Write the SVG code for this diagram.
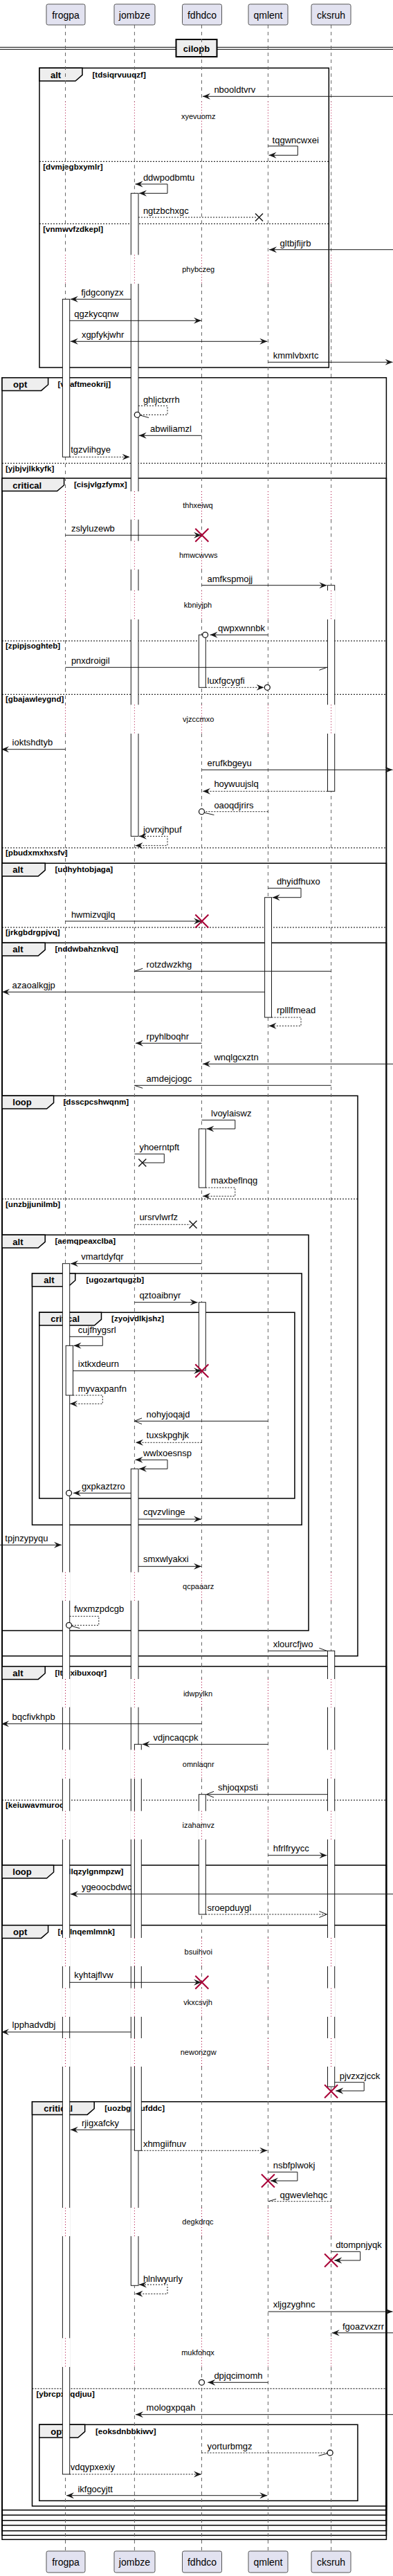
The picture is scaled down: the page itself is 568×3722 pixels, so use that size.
<svg xmlns="http://www.w3.org/2000/svg" width="568" height="3722" viewBox="0 0 568 3722">
<style>
.lbl{font-family:"Liberation Sans",Arial,sans-serif;font-size:13px;fill:#000}
.dly{font-family:"Liberation Sans",Arial,sans-serif;font-size:11px;fill:#000;text-anchor:middle}
.cnd{font-family:"Liberation Sans",Arial,sans-serif;font-size:11.6px;font-weight:bold;fill:#000}
.tab{font-family:"Liberation Sans",Arial,sans-serif;font-size:13px;font-weight:bold;fill:#000}
.pn{font-family:"Liberation Sans",Arial,sans-serif;font-size:14px;fill:#000;text-anchor:middle}
.m{stroke:#181818;stroke-width:1;fill:none}
.d{stroke-dasharray:2,2}
.fr{fill:none;stroke:#000;stroke-width:1.5}
.tb{fill:#EEEEEE;stroke:#000;stroke-width:1.5}
.sep{stroke:#000;stroke-width:1;stroke-dasharray:2,2}
.ll{stroke:#666;stroke-width:1;stroke-dasharray:5,5;fill:none}
.lr{stroke:#A80036;stroke-width:1;stroke-dasharray:1,3;fill:none}
.bar{fill:#fff;stroke:#181818;stroke-width:1}
.cv{fill:#fff;stroke:none}
.xr{stroke:#A80036;stroke-width:2;fill:none}
.xb{stroke:#181818;stroke-width:1.5;fill:none}
.ci{fill:#fff;stroke:#181818;stroke-width:1.3}
.pb{fill:#E2E2F0;stroke:#555;stroke-width:1}
</style>
<defs>
<marker id="af" markerUnits="userSpaceOnUse" markerWidth="12" markerHeight="10" viewBox="0 0 12 10" refX="11" refY="5" orient="auto-start-reverse"><path d="M0,0.5 L11,5 L0,9.5 L4,5 Z" fill="#181818"/></marker>
<marker id="ao" markerUnits="userSpaceOnUse" markerWidth="12" markerHeight="10" viewBox="0 0 12 10" refX="11" refY="5" orient="auto-start-reverse"><path d="M0,0.5 L11,5 L0,9.5" fill="none" stroke="#181818" stroke-width="1"/></marker>
</defs>

<g id="divider-cilopb">
<line x1="0" y1="68.3" x2="568" y2="68.3" stroke="#000" stroke-width="1"/>
<line x1="0" y1="71.3" x2="568" y2="71.3" stroke="#000" stroke-width="1"/>
<rect x="254.5" y="57" width="59" height="25" fill="#EEEEEE" stroke="#000" stroke-width="2"/>
<text x="284" y="74.8" class="tab" text-anchor="middle">cilopb</text>
</g>

<g id="frames">
<g id="f-alt1">
<rect class="fr" x="57" y="98.3" width="418.3" height="432.7"/>
<polygon class="tb" points="57,98.3 119,98.3 119,108.3 109,117 57,117"/>
<text class="tab" x="73" y="112.8">alt</text>
<text class="cnd" x="133.5" y="111.5">[tdsiqrvuuqzf]</text>
<line class="sep" x1="57" y1="233.3" x2="475.3" y2="233.3"/>
<text class="cnd" x="62.2" y="244.5">[dvmjegbxymlr]</text>
<line class="sep" x1="57" y1="323.3" x2="475.3" y2="323.3"/>
<text class="cnd" x="62.2" y="335">[vnmwvfzdkepl]</text>
</g>
<g id="f-opt1">
<rect class="fr" x="3" y="545.7" width="555.4" height="3123.6"/>
<polygon class="tb" points="3,545.7 69.6,545.7 69.6,555.7 59.6,564.4 3,564.4"/>
<text class="tab" x="19" y="560">opt</text>
<text class="cnd" x="83.5" y="558.5">[vpaftmeokrij]</text>
<line class="sep" x1="3" y1="669.3" x2="558.4" y2="669.3"/>
<text class="cnd" x="8" y="680.7">[yjbjvjlkkyfk]</text>
</g>
<g id="f-crit1">
<rect class="fr" x="3" y="691" width="555.4" height="2972.3"/>
<polygon class="tb" points="3,691 92.6,691 92.6,701 82.6,709.5 3,709.5"/>
<text class="tab" x="18.3" y="706">critical</text>
<text class="cnd" x="107" y="703.5">[cisjvlgzfymx]</text>
<line class="sep" x1="3" y1="926" x2="558.4" y2="926"/>
<text class="cnd" x="8" y="937.3">[zpipjsoghteb]</text>
<line class="sep" x1="3" y1="1003.3" x2="558.4" y2="1003.3"/>
<text class="cnd" x="8" y="1014">[gbajawleygnd]</text>
<line class="sep" x1="3" y1="1225" x2="558.4" y2="1225"/>
<text class="cnd" x="8" y="1235.5">[pbudxmxhxsfv]</text>
</g>
<g id="f-alt2">
<rect class="fr" x="3" y="1247.3" width="555.4" height="2409.4"/>
<polygon class="tb" points="3,1247.3 65.2,1247.3 65.2,1257.3 55.2,1266 3,1266"/>
<text class="tab" x="18.3" y="1261">alt</text>
<text class="cnd" x="79.5" y="1259.5">[udhyhtobjaga]</text>
<line class="sep" x1="3" y1="1340" x2="558.4" y2="1340"/>
<text class="cnd" x="8" y="1351">[jrkgbdrgpjvq]</text>
</g>
<g id="f-alt3">
<rect class="fr" x="3" y="1362.3" width="555.4" height="2286.4"/>
<polygon class="tb" points="3,1362.3 65.2,1362.3 65.2,1372.3 55.2,1381 3,1381"/>
<text class="tab" x="18.3" y="1376">alt</text>
<text class="cnd" x="79.5" y="1375">[nddwbahznkvq]</text>
</g>
<g id="f-loop1">
<rect class="fr" x="3" y="1583.3" width="514" height="809.4"/>
<polygon class="tb" points="3,1583.3 77.6,1583.3 77.6,1593.3 67.6,1602 3,1602"/>
<text class="tab" x="18.3" y="1597">loop</text>
<text class="cnd" x="91.5" y="1596">[dsscpcshwqnm]</text>
<line class="sep" x1="3" y1="1732.3" x2="517" y2="1732.3"/>
<text class="cnd" x="8" y="1743.5">[unzbjjunilmb]</text>
</g>
<g id="f-alt4">
<rect class="fr" x="3" y="1784.3" width="443" height="571.7"/>
<polygon class="tb" points="3,1784.3 65.2,1784.3 65.2,1794.3 55.2,1803 3,1803"/>
<text class="tab" x="18.3" y="1798.5">alt</text>
<text class="cnd" x="79.5" y="1797.3">[aemqpeaxclba]</text>
</g>
<g id="f-alt5">
<rect class="fr" x="46.5" y="1840" width="389.6" height="363.3"/>
<polygon class="tb" points="46.5,1840 108.8,1840 108.8,1850 98.8,1858.7 46.5,1858.7"/>
<text class="tab" x="63.3" y="1854">alt</text>
<text class="cnd" x="124.5" y="1853.3">[ugozartqugzb]</text>
</g>
<g id="f-crit2">
<rect class="fr" x="56.8" y="1896.3" width="369.1" height="268.7"/>
<polygon class="tb" points="56.8,1896.3 146.5,1896.3 146.5,1906.3 136.5,1915 56.8,1915"/>
<text class="tab" x="73.2" y="1910">critical</text>
<text class="cnd" x="161.1" y="1909.3">[zyojvdlkjshz]</text>
</g>
<g id="f-alt6">
<rect class="fr" x="3" y="2407.7" width="555.4" height="1234"/>
<polygon class="tb" points="3,2407.7 65.2,2407.7 65.2,2417.7 55.2,2426.4 3,2426.4"/>
<text class="tab" x="18.3" y="2421.7">alt</text>
<text class="cnd" x="79.5" y="2420.7">[lttpxibuxoqr]</text>
<line class="sep" x1="3" y1="2601" x2="558.4" y2="2601"/>
<text class="cnd" x="8" y="2611.7">[keiuwavmuroq]</text>
</g>
<g id="f-loop2">
<rect class="fr" x="3" y="2695" width="555.4" height="939"/>
<polygon class="tb" points="3,2695 77.6,2695 77.6,2705 67.6,2713.7 3,2713.7"/>
<text class="tab" x="18.3" y="2709.3">loop</text>
<text class="cnd" x="91.5" y="2708.3">[dlqzylgnmpzw]</text>
</g>
<g id="f-opt2">
<rect class="fr" x="3" y="2781.7" width="555.4" height="845"/>
<polygon class="tb" points="3,2781.7 69.6,2781.7 69.6,2791.7 59.6,2800.4 3,2800.4"/>
<text class="tab" x="19" y="2796">opt</text>
<text class="cnd" x="83.5" y="2794.5">[nlilnqemlmnk]</text>
</g>
<g id="f-crit3">
<rect class="fr" x="46.5" y="3036.7" width="511.9" height="584.3"/>
<polygon class="tb" points="46.5,3036.7 136.2,3036.7 136.2,3046.7 126.2,3055.4 46.5,3055.4"/>
<text class="tab" x="63.3" y="3050.7">critical</text>
<text class="cnd" x="151.2" y="3050">[uozbgoxufddc]</text>
<line class="sep" x1="46.5" y1="3451.3" x2="558.4" y2="3451.3"/>
<text class="cnd" x="52.4" y="3462.7">[ybrcpxdqdjuu]</text>
</g>
<g id="f-opt3">
<rect class="fr" x="56.8" y="3503.3" width="460.2" height="110"/>
<polygon class="tb" points="56.8,3503.3 122.7,3503.3 122.7,3513.3 112.7,3522 56.8,3522"/>
<text class="tab" x="73.2" y="3517.5">opt</text>
<text class="cnd" x="138" y="3516.7">[eoksdnbbkiwv]</text>
</g>
</g>

<g id="p-frogpa">
<path class="ll" d="M94.5,36V146.7M94.5,188.3V368.3M94.5,410V710M94.5,750.7V781.7M94.5,822.7V853.3M94.5,895V1018.3M94.5,1060V2271.7M94.5,2312.7V2426M94.5,2466.7V2528.3M94.5,2570V2616.7M94.5,2657.7V2800M94.5,2841V2872.7M94.5,2914V2945M94.5,2986V3190M94.5,3231V3378.3M94.5,3420V3686"/>
<rect class="bar" x="90.4" y="432.3" width="10.3" height="228"/>
<rect class="bar" x="90.4" y="1825.7" width="10.3" height="1749.3"/>
<rect class="bar" x="95.2" y="1944.3" width="10.3" height="71.7"/>
<rect class="cv" x="89.4" y="2271.7" width="12.3" height="41"/>
<rect class="cv" x="89.4" y="2426" width="12.3" height="40.7"/>
<rect class="cv" x="89.4" y="2528.3" width="12.3" height="41.7"/>
<rect class="cv" x="89.4" y="2616.7" width="12.3" height="41"/>
<rect class="cv" x="89.4" y="2800" width="12.3" height="41"/>
<rect class="cv" x="89.4" y="2872.7" width="12.3" height="41.3"/>
<rect class="cv" x="89.4" y="2945" width="12.3" height="41"/>
<rect class="cv" x="89.4" y="3190" width="12.3" height="41"/>
<rect class="cv" x="89.4" y="3378.3" width="12.3" height="41.7"/>
<path class="lr" d="M94.5,146.7V188.3M94.5,368.3V410M94.5,710V750.7M94.5,781.7V822.7M94.5,853.3V895M94.5,1018.3V1060M94.5,2271.7V2312.7M94.5,2426V2466.7M94.5,2528.3V2570M94.5,2616.7V2657.7M94.5,2800V2841M94.5,2872.7V2914M94.5,2945V2986M94.5,3190V3231M94.5,3378.3V3420"/>
<rect class="pb" x="67" y="6" width="56" height="30" rx="2.5"/>
<text class="pn" x="95" y="26.5">frogpa</text>
<rect class="pb" x="67" y="3686" width="56" height="31" rx="2.5"/>
<text class="pn" x="95" y="3706.7">frogpa</text>
</g>

<g id="p-jombze">
<path class="ll" d="M194.4,36V146.7M194.4,188.3V368.3M194.4,410V710M194.4,750.7V781.7M194.4,822.7V853.3M194.4,895V1018.3M194.4,1060V2271.7M194.4,2312.7V2426M194.4,2466.7V2528.3M194.4,2570V2616.7M194.4,2657.7V2800M194.4,2841V2872.7M194.4,2914V2945M194.4,2986V3190M194.4,3231V3378.3M194.4,3420V3686"/>
<rect class="bar" x="189.3" y="279.3" width="10.7" height="929"/>
<rect class="bar" x="189.3" y="2122.3" width="10.7" height="1180"/>
<rect class="bar" x="194.4" y="2520.3" width="9.9" height="587"/>
<rect class="cv" x="188.3" y="368.3" width="12.7" height="41.7"/>
<rect class="cv" x="188.3" y="710" width="12.7" height="40.7"/>
<rect class="cv" x="188.3" y="781.7" width="12.7" height="41"/>
<rect class="cv" x="188.3" y="853.3" width="12.7" height="41.7"/>
<rect class="cv" x="188.3" y="1018.3" width="12.7" height="41.7"/>
<rect class="cv" x="188.3" y="2271.7" width="12.7" height="41"/>
<rect class="cv" x="188.3" y="2426" width="12.7" height="40.7"/>
<rect class="cv" x="188.3" y="2528.3" width="17" height="41.7"/>
<rect class="cv" x="188.3" y="2616.7" width="17" height="41"/>
<rect class="cv" x="188.3" y="2800" width="17" height="41"/>
<rect class="cv" x="188.3" y="2872.7" width="17" height="41.3"/>
<rect class="cv" x="188.3" y="2945" width="17" height="41"/>
<rect class="cv" x="188.3" y="3190" width="12.7" height="41"/>
<path class="lr" d="M194.4,146.7V188.3M194.4,368.3V410M194.4,710V750.7M194.4,781.7V822.7M194.4,853.3V895M194.4,1018.3V1060M194.4,2271.7V2312.7M194.4,2426V2466.7M194.4,2528.3V2570M194.4,2616.7V2657.7M194.4,2800V2841M194.4,2872.7V2914M194.4,2945V2986M194.4,3190V3231M194.4,3378.3V3420"/>
<rect class="pb" x="165" y="6" width="59" height="30" rx="2.5"/>
<text class="pn" x="194.4" y="26.5">jombze</text>
<rect class="pb" x="165" y="3686" width="59" height="31" rx="2.5"/>
<text class="pn" x="194.4" y="3706.7">jombze</text>
</g>

<g id="p-fdhdco">
<path class="ll" d="M291.5,36V146.7M291.5,188.3V368.3M291.5,410V710M291.5,750.7V781.7M291.5,822.7V853.3M291.5,895V1018.3M291.5,1060V2271.7M291.5,2312.7V2426M291.5,2466.7V2528.3M291.5,2570V2616.7M291.5,2657.7V2800M291.5,2841V2872.7M291.5,2914V2945M291.5,2986V3190M291.5,3231V3378.3M291.5,3420V3686"/>
<rect class="bar" x="287.4" y="917.3" width="9.9" height="76"/>
<rect class="bar" x="287.4" y="1631" width="9.9" height="85"/>
<rect class="bar" x="287.4" y="1881.7" width="9.9" height="98.3"/>
<rect class="bar" x="287.4" y="2592.7" width="9.9" height="173.3"/>
<rect class="cv" x="286.4" y="2616.7" width="11.9" height="41"/>
<path class="lr" d="M291.5,146.7V188.3M291.5,368.3V410M291.5,710V750.7M291.5,781.7V822.7M291.5,853.3V895M291.5,1018.3V1060M291.5,2271.7V2312.7M291.5,2426V2466.7M291.5,2528.3V2570M291.5,2616.7V2657.7M291.5,2800V2841M291.5,2872.7V2914M291.5,2945V2986M291.5,3190V3231M291.5,3378.3V3420"/>
<rect class="pb" x="263.5" y="6" width="57" height="30" rx="2.5"/>
<text class="pn" x="292" y="26.5">fdhdco</text>
<rect class="pb" x="263.5" y="3686" width="57" height="31" rx="2.5"/>
<text class="pn" x="292" y="3706.7">fdhdco</text>
</g>

<g id="p-qmlent">
<path class="ll" d="M387.4,36V146.7M387.4,188.3V368.3M387.4,410V710M387.4,750.7V781.7M387.4,822.7V853.3M387.4,895V1018.3M387.4,1060V2271.7M387.4,2312.7V2426M387.4,2466.7V2528.3M387.4,2570V2616.7M387.4,2657.7V2800M387.4,2841V2872.7M387.4,2914V2945M387.4,2986V3190M387.4,3231V3378.3M387.4,3420V3686"/>
<rect class="bar" x="382.6" y="1296.7" width="9.9" height="173.3"/>
<path class="lr" d="M387.4,146.7V188.3M387.4,368.3V410M387.4,710V750.7M387.4,781.7V822.7M387.4,853.3V895M387.4,1018.3V1060M387.4,2271.7V2312.7M387.4,2426V2466.7M387.4,2528.3V2570M387.4,2616.7V2657.7M387.4,2800V2841M387.4,2872.7V2914M387.4,2945V2986M387.4,3190V3231M387.4,3378.3V3420"/>
<rect class="pb" x="359" y="6" width="57" height="30" rx="2.5"/>
<text class="pn" x="387.5" y="26.5">qmlent</text>
<rect class="pb" x="359" y="3686" width="57" height="31" rx="2.5"/>
<text class="pn" x="387.5" y="3706.7">qmlent</text>
</g>

<g id="p-cksruh">
<path class="ll" d="M478.6,36V146.7M478.6,188.3V368.3M478.6,410V710M478.6,750.7V781.7M478.6,822.7V853.3M478.6,895V1018.3M478.6,1060V2271.7M478.6,2312.7V2426M478.6,2466.7V2528.3M478.6,2570V2616.7M478.6,2657.7V2800M478.6,2841V2872.7M478.6,2914V2945M478.6,2986V3190M478.6,3231V3378.3M478.6,3420V3686"/>
<rect class="bar" x="473.5" y="845.7" width="10.2" height="297.6"/>
<rect class="bar" x="473.5" y="2385.3" width="10.2" height="629.7"/>
<rect class="cv" x="472.5" y="853.3" width="12.2" height="41.7"/>
<rect class="cv" x="472.5" y="1018.3" width="12.2" height="41.7"/>
<rect class="cv" x="472.5" y="2426" width="12.2" height="40.7"/>
<rect class="cv" x="472.5" y="2528.3" width="12.2" height="41.7"/>
<rect class="cv" x="472.5" y="2616.7" width="12.2" height="41"/>
<rect class="cv" x="472.5" y="2800" width="12.2" height="41"/>
<rect class="cv" x="472.5" y="2872.7" width="12.2" height="41.3"/>
<rect class="cv" x="472.5" y="2945" width="12.2" height="41"/>
<path class="lr" d="M478.6,146.7V188.3M478.6,368.3V410M478.6,710V750.7M478.6,781.7V822.7M478.6,853.3V895M478.6,1018.3V1060M478.6,2271.7V2312.7M478.6,2426V2466.7M478.6,2528.3V2570M478.6,2616.7V2657.7M478.6,2800V2841M478.6,2872.7V2914M478.6,2945V2986M478.6,3190V3231M478.6,3378.3V3420"/>
<rect class="pb" x="450" y="6" width="57" height="30" rx="2.5"/>
<text class="pn" x="478.5" y="26.5">cksruh</text>
<rect class="pb" x="450" y="3686" width="57" height="31" rx="2.5"/>
<text class="pn" x="478.5" y="3706.7">cksruh</text>
</g>

<g id="connectors">
<line class="m" x1="568" y1="139.3" x2="293" y2="139.3" marker-end="url(#af)"/>
<text class="lbl" x="309.4" y="134">nbooldtvrv</text>
<path class="m" d="M387.4,211H430.3V224.3H388.5" marker-end="url(#af)"/>
<text class="lbl" x="393.6" y="206.7">tqgwncwxei</text>
<path class="m" d="M195.5,266H242V279.3H201" marker-start="url(#af)" marker-end="url(#af)"/>
<text class="lbl" x="206.9" y="261">ddwpodbmtu</text>
<line class="m d" x1="200" y1="314" x2="370" y2="314"/>
<path class="xb" d="M369,308.5L380,319.5M380,308.5L369,319.5"/>
<text class="lbl" x="206.9" y="309">ngtzbchxgc</text>
<line class="m" x1="568" y1="360.7" x2="389" y2="360.7" marker-end="url(#af)"/>
<text class="lbl" x="404.6" y="355.7">gltbjfijrb</text>
<line class="m" x1="189.3" y1="432.3" x2="101.8" y2="432.3" marker-end="url(#af)"/>
<text class="lbl" x="117.2" y="427.3">fjdgconyzx</text>
<line class="m" x1="100.7" y1="463.3" x2="291" y2="463.3" marker-end="url(#af)"/>
<text class="lbl" x="107.3" y="458.3">qgzkycqnw</text>
<line class="m" x1="101.8" y1="493.3" x2="386.3" y2="493.3" marker-start="url(#af)" marker-end="url(#af)"/>
<text class="lbl" x="117.9" y="488.3">xgpfykjwhr</text>
<line class="m" x1="387.4" y1="523.3" x2="567.5" y2="523.3" marker-end="url(#af)"/>
<text class="lbl" x="394.7" y="518.3">kmmlvbxrtc</text>
<path class="m d" d="M200,586.3H242V599.3H202.3"/>
<circle class="ci" cx="198.3" cy="599.3" r="4"/>
<line class="m" x1="202.5" y1="600" x2="215" y2="603.5"/>
<text class="lbl" x="206.9" y="581.7">ghljctxrrh</text>
<line class="m" x1="291.5" y1="629.3" x2="200.7" y2="629.3" marker-end="url(#af)"/>
<text class="lbl" x="217" y="624.3">abwiliamzl</text>
<line class="m d" x1="100.7" y1="660.3" x2="187.5" y2="660.3" marker-end="url(#af)"/>
<text class="lbl" x="102.2" y="654.3">tgzvlihgye</text>
<line class="m" x1="94.5" y1="773.3" x2="291" y2="773.3" marker-end="url(#af)"/>
<path class="xr" d="M282.3,763.8L301.3,782.8M301.3,763.8L282.3,782.8"/>
<text class="lbl" x="102.9" y="768.3">zslyluzewb</text>
<line class="m" x1="291.5" y1="845.7" x2="472.4" y2="845.7" marker-end="url(#af)"/>
<text class="lbl" x="299.5" y="840.7">amfkspmojj</text>
<line class="m" x1="387.4" y1="917.3" x2="303.5" y2="917.3" marker-end="url(#af)"/>
<circle class="ci" cx="296.6" cy="917.3" r="4"/>
<text class="lbl" x="315" y="912.3">qwpxwnnbk</text>
<line class="m" x1="94.5" y1="964.3" x2="473.5" y2="964.3"/>
<line class="m" x1="472.4" y1="964.3" x2="461.4" y2="968.3"/>
<text class="lbl" x="102.9" y="959.3">pnxdroigil</text>
<line class="m d" x1="297.3" y1="993.3" x2="381.5" y2="993.3" marker-end="url(#af)"/>
<circle class="ci" cx="386.3" cy="993.3" r="4"/>
<text class="lbl" x="299.5" y="988.3">luxfgcygfi</text>
<line class="m" x1="94.5" y1="1082.7" x2="2" y2="1082.7" marker-end="url(#af)"/>
<text class="lbl" x="17.6" y="1076.7">ioktshdtyb</text>
<line class="m" x1="291.5" y1="1112.3" x2="567.5" y2="1112.3" marker-end="url(#af)"/>
<text class="lbl" x="299.5" y="1106.7">erufkbgeyu</text>
<line class="m d" x1="473.5" y1="1143.3" x2="293" y2="1143.3" marker-end="url(#af)"/>
<text class="lbl" x="309.4" y="1137.3">hoywuujslq</text>
<line class="m d" x1="387.4" y1="1172.7" x2="295.5" y2="1172.7"/>
<circle class="ci" cx="291.5" cy="1172.7" r="4"/>
<line class="m" x1="295" y1="1174.2" x2="309.4" y2="1177.5"/>
<text class="lbl" x="309.4" y="1167.7">oaoqdjrirs</text>
<path class="m d" d="M201,1208.3H242V1221.7H195.5" marker-start="url(#af)" marker-end="url(#af)"/>
<text class="lbl" x="206.9" y="1203.3">jovrxjhpuf</text>
<path class="m" d="M387.4,1283.3H435V1296.7H393.6" marker-end="url(#af)"/>
<text class="lbl" x="399.9" y="1278.3">dhyidfhuxo</text>
<line class="m" x1="94.5" y1="1331" x2="291" y2="1331" marker-end="url(#af)"/>
<path class="xr" d="M282.3,1321.5L301.3,1340.5M301.3,1321.5L282.3,1340.5"/>
<text class="lbl" x="102.9" y="1326">hwmizvqjlq</text>
<line class="m" x1="478.6" y1="1403.3" x2="194.4" y2="1403.3"/>
<line class="m" x1="194.4" y1="1403.3" x2="206.2" y2="1399.3"/>
<text class="lbl" x="211.6" y="1398.3">rotzdwzkhg</text>
<line class="m" x1="382.6" y1="1433.3" x2="3" y2="1433.3" marker-end="url(#af)"/>
<text class="lbl" x="17.6" y="1428.3">azaoalkgjp</text>
<path class="m d" d="M392.5,1470H435V1482.3H388.5" marker-end="url(#af)"/>
<text class="lbl" x="399.9" y="1464.3">rplllfmead</text>
<line class="m" x1="291.5" y1="1507.3" x2="196" y2="1507.3" marker-end="url(#af)"/>
<text class="lbl" x="211.6" y="1502.3">rpyhlboqhr</text>
<line class="m" x1="568" y1="1537.3" x2="293" y2="1537.3" marker-end="url(#af)"/>
<text class="lbl" x="309.4" y="1532.3">wnqlgcxztn</text>
<line class="m" x1="478.6" y1="1568.3" x2="194.4" y2="1568.3"/>
<line class="m" x1="194.4" y1="1568.3" x2="206.2" y2="1572.3"/>
<text class="lbl" x="211.6" y="1562.7">amdejcjogc</text>
<path class="m" d="M291.5,1618.3H339.8V1631H298.4" marker-end="url(#af)"/>
<text class="lbl" x="305" y="1613.3">lvoylaiswz</text>
<path class="m" d="M194.4,1667.3H237.3V1680H205.8"/>
<path class="xb" d="M200.3,1674.5L211.3,1685.5M211.3,1674.5L200.3,1685.5"/>
<text class="lbl" x="201.4" y="1661.7">yhoerntpft</text>
<path class="m d" d="M297.3,1716H339.8V1728.3H293" marker-end="url(#af)"/>
<text class="lbl" x="305" y="1710.3">maxbeflnqg</text>
<line class="m d" x1="194.4" y1="1769.3" x2="275" y2="1769.3"/>
<path class="xb" d="M273.5,1763.8L284.5,1774.8M284.5,1763.8L273.5,1774.8"/>
<text class="lbl" x="201.4" y="1763.3">ursrvlwrfz</text>
<line class="m" x1="291.5" y1="1825.7" x2="102" y2="1825.7" marker-end="url(#af)"/>
<text class="lbl" x="117.2" y="1820.3">vmartdyfqr</text>
<line class="m" x1="194.4" y1="1881.7" x2="285.6" y2="1881.7" marker-end="url(#af)"/>
<text class="lbl" x="201.4" y="1876">qztoaibnyr</text>
<path class="m" d="M100.7,1931.3H148.3V1944.3H106.5" marker-end="url(#af)"/>
<text class="lbl" x="112.8" y="1926">cujfhygsrl</text>
<line class="m" x1="105.5" y1="1980.7" x2="291" y2="1980.7" marker-end="url(#af)"/>
<path class="xr" d="M282.3,1971.2L301.3,1990.2M301.3,1971.2L282.3,1990.2"/>
<text class="lbl" x="112.8" y="1975.3">ixtkxdeurn</text>
<path class="m d" d="M105.5,2016H148.3V2028.3H101" marker-end="url(#af)"/>
<text class="lbl" x="112.8" y="2010.7">myvaxpanfn</text>
<line class="m" x1="387.4" y1="2053.3" x2="194.4" y2="2053.3" marker-end="url(#ao)"/>
<text class="lbl" x="211.6" y="2048.3">nohyjoqajd</text>
<line class="m d" x1="291.5" y1="2084.3" x2="196" y2="2084.3" marker-end="url(#af)"/>
<text class="lbl" x="211.6" y="2078.3">tuxskpghjk</text>
<path class="m" d="M195.5,2109.3H242V2122.3H201" marker-start="url(#af)" marker-end="url(#af)"/>
<text class="lbl" x="206.9" y="2104.3">wwlxoesnsp</text>
<line class="m" x1="189.3" y1="2157.3" x2="106" y2="2157.3" marker-end="url(#af)"/>
<circle class="ci" cx="99.6" cy="2157.3" r="4"/>
<text class="lbl" x="117.9" y="2152.3">gxpkaztzro</text>
<line class="m" x1="200" y1="2195" x2="291" y2="2195" marker-end="url(#af)"/>
<text class="lbl" x="206.9" y="2189.3">cqvzvlinge</text>
<line class="m" x1="0" y1="2232.3" x2="89" y2="2232.3" marker-end="url(#af)"/>
<text class="lbl" x="7.3" y="2227.3">tpjnzypyqu</text>
<line class="m" x1="200" y1="2263.3" x2="291" y2="2263.3" marker-end="url(#af)"/>
<text class="lbl" x="206.9" y="2257.3">smxwlyakxi</text>
<path class="m d" d="M100.7,2335.3H142.8V2348.3H103.6"/>
<circle class="ci" cx="99.6" cy="2348.3" r="4"/>
<line class="m" x1="103.6" y1="2349.5" x2="115.3" y2="2352.7"/>
<text class="lbl" x="107" y="2329.3">fwxmzpdcgb</text>
<line class="m" x1="387.4" y1="2385.3" x2="473.5" y2="2385.3"/>
<line class="m" x1="472.4" y1="2385.3" x2="461.4" y2="2381.3"/>
<text class="lbl" x="394.7" y="2380.3">xlourcfjwo</text>
<line class="m" x1="291.5" y1="2490.7" x2="2" y2="2490.7" marker-end="url(#af)"/>
<text class="lbl" x="17.6" y="2485">bqcfivkhpb</text>
<line class="m" x1="387.4" y1="2520.3" x2="205.5" y2="2520.3" marker-end="url(#af)"/>
<text class="lbl" x="221.5" y="2515">vdjncaqcpk</text>
<line class="m" x1="473.5" y1="2592.7" x2="298.4" y2="2592.7" marker-end="url(#ao)"/>
<text class="lbl" x="315" y="2587.3">shjoqxpsti</text>
<line class="m" x1="387.4" y1="2680.7" x2="472.4" y2="2680.7" marker-end="url(#af)"/>
<text class="lbl" x="394.7" y="2675">hfrlfryycc</text>
<line class="m" x1="568" y1="2736.7" x2="101.8" y2="2736.7" marker-end="url(#af)"/>
<text class="lbl" x="117.9" y="2730.7">ygeoocbdwc</text>
<line class="m d" x1="297.3" y1="2766" x2="472.4" y2="2766" marker-end="url(#ao)"/>
<text class="lbl" x="299.5" y="2760.7">sroepduygl</text>
<line class="m" x1="100.7" y1="2864.3" x2="291" y2="2864.3" marker-end="url(#af)"/>
<path class="xr" d="M282.3,2854.8L301.3,2873.8M301.3,2854.8L282.3,2873.8"/>
<text class="lbl" x="107.3" y="2858.3">kyhtajflvw</text>
<line class="m" x1="189.3" y1="2936" x2="2" y2="2936" marker-end="url(#af)"/>
<text class="lbl" x="17.6" y="2930">lpphadvdbj</text>
<path class="m" d="M483.7,3008.7H526.2V3021H485.2" marker-end="url(#af)"/>
<path class="xr" d="M469.1,3012.2L488.1,3031.2M488.1,3012.2L469.1,3031.2"/>
<text class="lbl" x="490.7" y="3004">pjvzxzjcck</text>
<line class="m" x1="194.4" y1="3077.3" x2="101.8" y2="3077.3" marker-end="url(#af)"/>
<text class="lbl" x="117.9" y="3071.7">rjigxafcky</text>
<line class="m d" x1="204.3" y1="3107.3" x2="386.3" y2="3107.3" marker-end="url(#af)"/>
<text class="lbl" x="206.9" y="3102">xhmgiifnuv</text>
<path class="m" d="M387.4,3138.3H429.9V3151H391" marker-end="url(#af)"/>
<path class="xr" d="M377.9,3141.5L396.9,3160.5M396.9,3141.5L377.9,3160.5"/>
<text class="lbl" x="394.7" y="3133.3">nsbfplwokj</text>
<line class="m d" x1="478.6" y1="3180.7" x2="388.1" y2="3180.7"/>
<line class="m" x1="388.1" y1="3180.7" x2="399.1" y2="3177.3"/>
<text class="lbl" x="404.6" y="3176">qgwevlehqc</text>
<path class="m" d="M478.6,3253.3H520.7V3266H483.3" marker-end="url(#af)"/>
<path class="xr" d="M469.1,3256.5L488.1,3275.5M488.1,3256.5L469.1,3275.5"/>
<text class="lbl" x="485.2" y="3248.3">dtompnjyqk</text>
<path class="m d" d="M201,3301H242V3314.3H195.5" marker-start="url(#af)" marker-end="url(#af)"/>
<text class="lbl" x="206.9" y="3296.7">hlnlwyurly</text>
<line class="m" x1="387.4" y1="3340" x2="567.5" y2="3340" marker-end="url(#af)"/>
<text class="lbl" x="394.7" y="3334.3">xljgzyghnc</text>
<line class="m" x1="568" y1="3370.7" x2="479.7" y2="3370.7" marker-end="url(#af)"/>
<text class="lbl" x="495" y="3365.7">fgoazvxzrr</text>
<line class="m" x1="387.4" y1="3442.3" x2="300.3" y2="3442.3" marker-end="url(#af)"/>
<circle class="ci" cx="291.5" cy="3442.3" r="4"/>
<text class="lbl" x="309.4" y="3437.3">dpjqcimomh</text>
<line class="m" x1="568" y1="3488.7" x2="196" y2="3488.7" marker-end="url(#af)"/>
<text class="lbl" x="211.6" y="3482.7">mologxpqah</text>
<line class="m d" x1="291.5" y1="3544" x2="473" y2="3544"/>
<circle class="ci" cx="477.1" cy="3544" r="4"/>
<line class="m" x1="473" y1="3545" x2="460.6" y2="3548.3"/>
<text class="lbl" x="299.5" y="3539.3">yorturbmgz</text>
<line class="m d" x1="100.7" y1="3575" x2="291" y2="3575" marker-end="url(#af)"/>
<text class="lbl" x="101.8" y="3569.3">vdqypxexiy</text>
<line class="m" x1="96" y1="3605.7" x2="386.3" y2="3605.7" marker-start="url(#af)" marker-end="url(#af)"/>
<text class="lbl" x="112.4" y="3600.7">ikfgocyjtt</text>
</g>

<g id="delays">
<text class="dly" x="286.7" y="171.7">xyevuomz</text>
<text class="dly" x="286.7" y="393.3">phybczeg</text>
<text class="dly" x="286" y="734.3">thhxeiwq</text>
<text class="dly" x="286.7" y="806">hmwcwvws</text>
<text class="dly" x="286" y="878.3">kbniyjph</text>
<text class="dly" x="286.7" y="1042.7">vjzccmxo</text>
<text class="dly" x="286.7" y="2295.7">qcpaaarz</text>
<text class="dly" x="286" y="2450.7">idwpylkn</text>
<text class="dly" x="286.7" y="2552.7">omnlaqnr</text>
<text class="dly" x="286.7" y="2641">izahamvz</text>
<text class="dly" x="286.7" y="2824">bsuihvoi</text>
<text class="dly" x="286" y="2897.3">vkxcsvjh</text>
<text class="dly" x="286.7" y="2969.3">newonzgw</text>
<text class="dly" x="286" y="3214.3">degkdrqc</text>
<text class="dly" x="286" y="3403.3">mukfohqx</text>
</g>
</svg>
